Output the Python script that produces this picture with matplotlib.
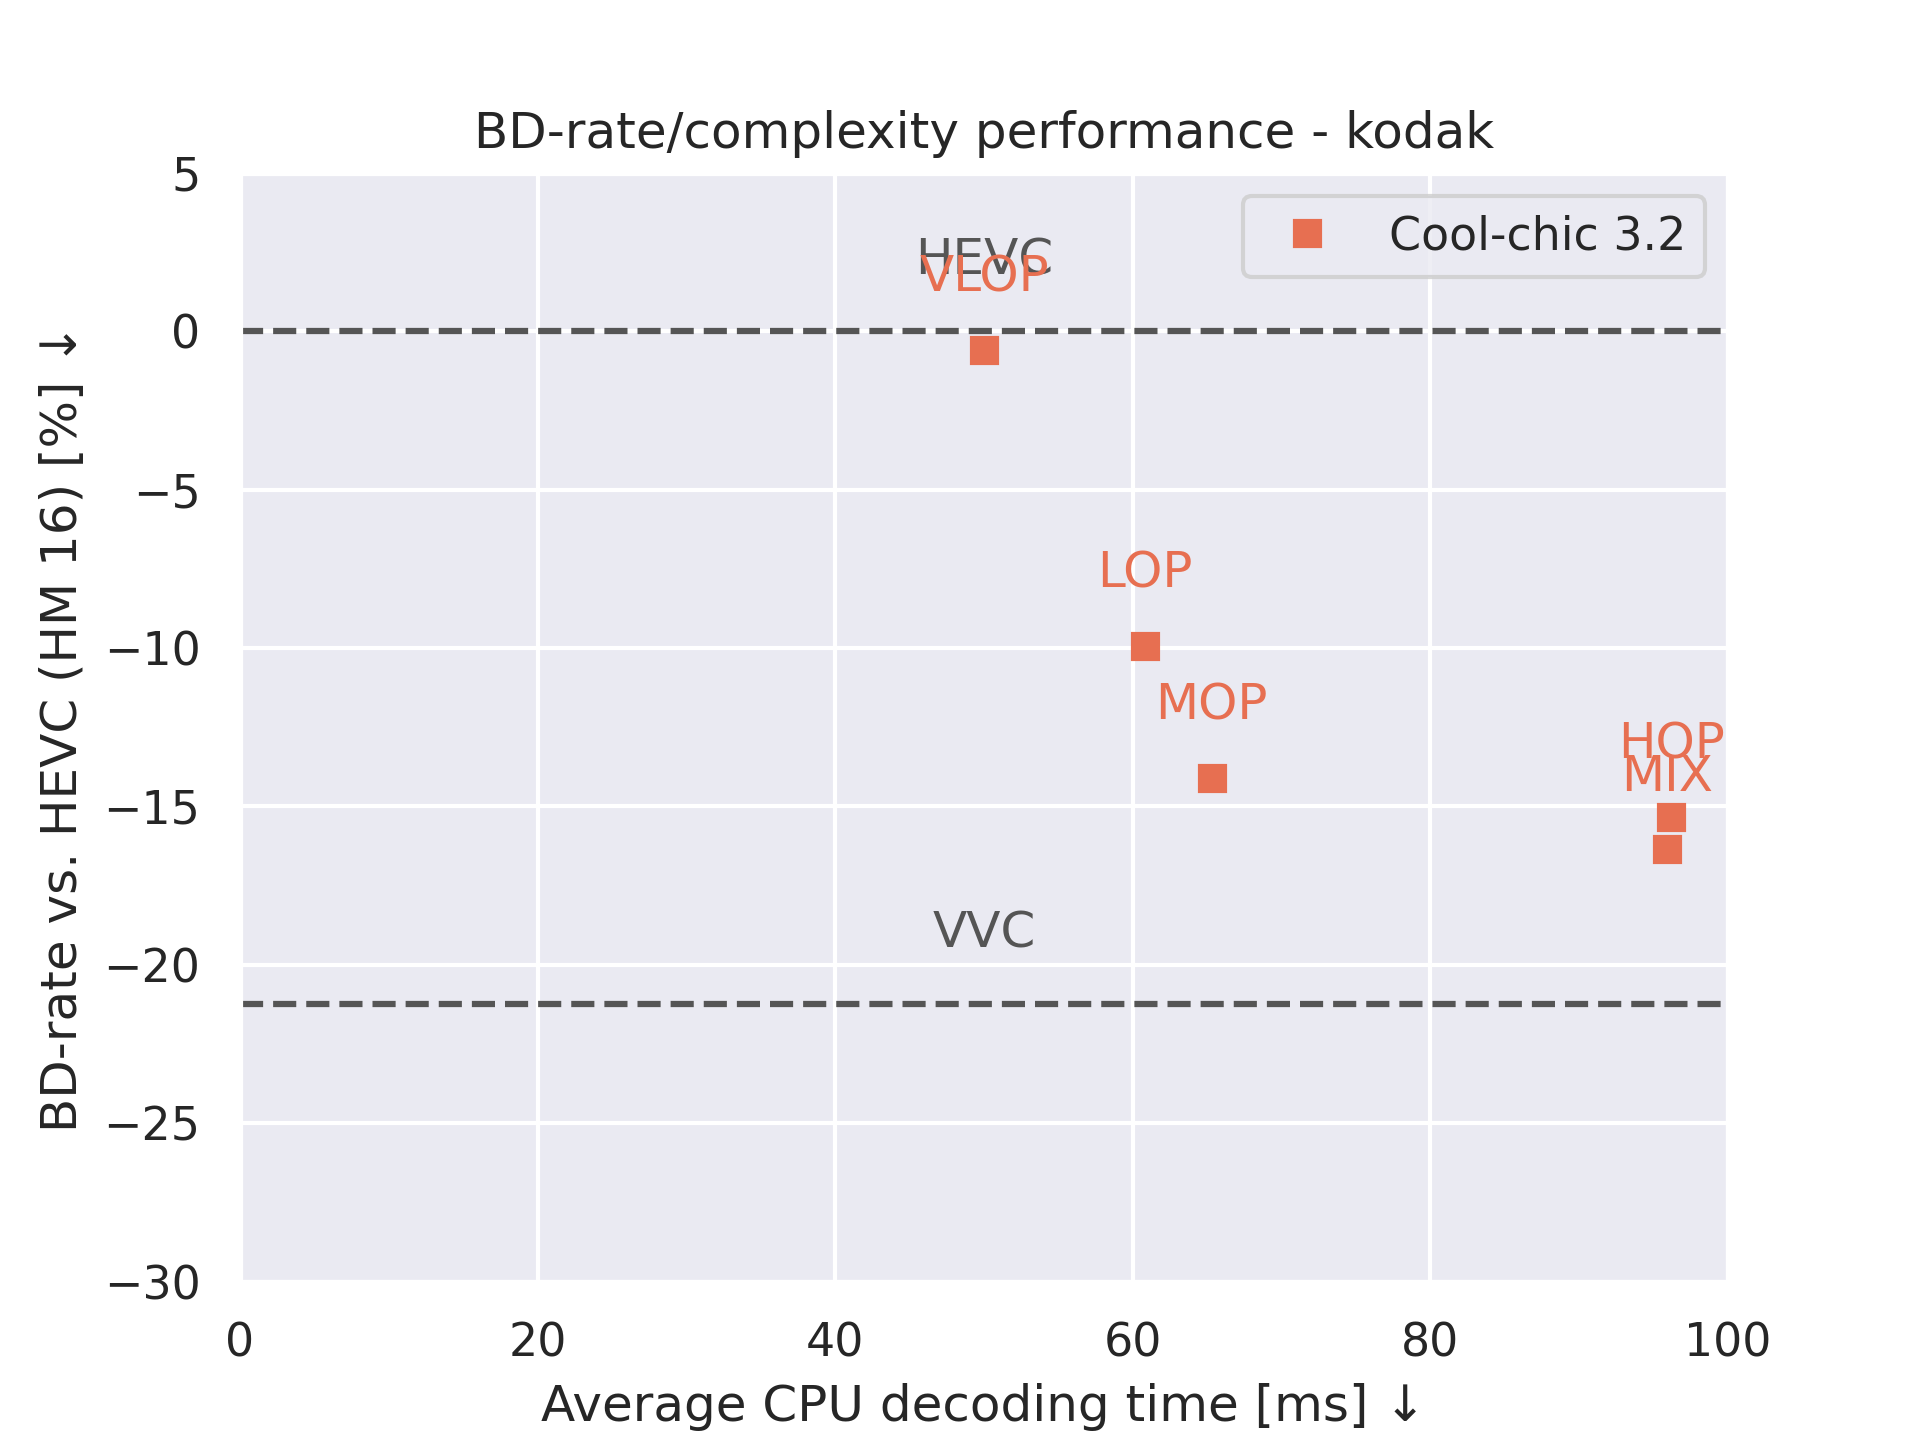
import numpy as np
import matplotlib
matplotlib.use("Agg")
import matplotlib.pyplot as plt
import seaborn as sns

sns.set_theme(style="darkgrid")

# Cool-chic 3.2 operating points
names = ["VLOP", "LOP", "MOP", "HOP", "MIX"]
dec_time = [50.0, 60.8, 65.3, 96.2, 95.9]
bd_rate = [-0.6, -9.95, -14.1, -15.35, -16.35]

# anchors
anchor_names = ["HEVC", "VVC"]
anchor_bd = [0.0, -21.25]
anchor_x = 50.0

col = "#e76f51"
grey = "#555555"

fig, ax = plt.subplots(figsize=(6.4, 4.8))

for name, y in zip(anchor_names, anchor_bd):
    ax.axhline(y, color=grey, linestyle="--")
    ax.text(anchor_x, y + 1.8, name, color=grey, ha="center", fontsize=12)

ax.plot(dec_time, bd_rate, marker="s", linestyle="", markersize=6, color=col, label="Cool-chic 3.2")
for name, x, y in zip(names, dec_time, bd_rate):
    ax.text(x, y + 1.85, name, color=col, ha="center", fontsize=12)

ax.set_xlim(0, 100)
ax.set_ylim(-30, 5)
ax.set_xticks(np.arange(0, 101, 20))
ax.set_yticks(np.arange(-30, 6, 5))
ax.set_title("BD-rate/complexity performance - kodak")
ax.set_xlabel("Average CPU decoding time [ms] ↓")
ax.set_ylabel("BD-rate vs. HEVC (HM 16) [%] ↓")
ax.legend(loc="upper right")

fig.savefig("out.png", dpi=300)
